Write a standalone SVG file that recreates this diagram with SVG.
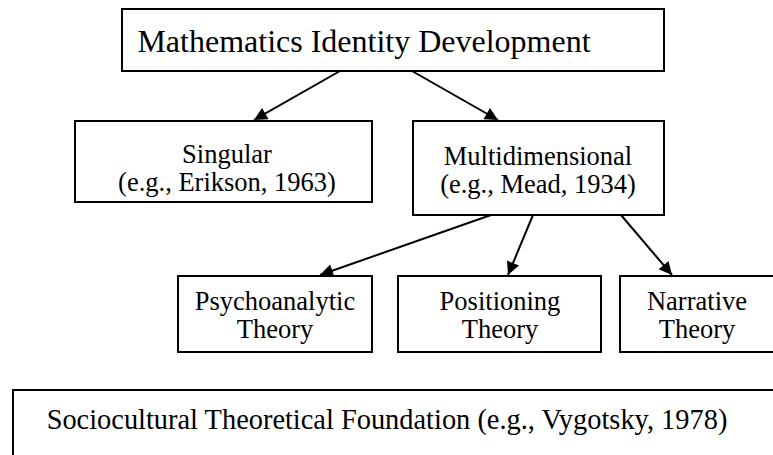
<svg xmlns="http://www.w3.org/2000/svg" width="773" height="455" viewBox="0 0 773 455">
  <style>
    .box { fill: #ffffff; stroke: #000000; stroke-width: 2; }
    .lbl { fill: #000000; text-anchor: middle; }
    .big { font-size: 32px; }
    .mid { font-size: 26.5px; }
    .foot { font-size: 28.4px; }
    .edge { stroke: #000000; stroke-width: 2; fill: none; marker-end: url(#arrow); }
  </style>
  <defs>
    <!-- filled triangular arrowhead shared by every connector -->
    <marker id="arrow" viewBox="0 0 10 10" refX="10" refY="5" markerWidth="7.5" markerHeight="6.5" markerUnits="strokeWidth" orient="auto">
      <path d="M0,0 L10,5 L0,10 z" fill="#000000"/>
    </marker>
  </defs>
  <rect width="773" height="455" fill="#ffffff"/>

  <g id="connectors">
    <line class="edge" x1="340" y1="71" x2="254" y2="120"/>
    <line class="edge" x1="412" y1="71" x2="498" y2="120"/>
    <line class="edge" x1="491" y1="215" x2="320" y2="275"/>
    <line class="edge" x1="533" y1="215" x2="508" y2="275"/>
    <line class="edge" x1="621" y1="215" x2="672" y2="275"/>
  </g>

  <g font-family="Liberation Serif, DejaVu Serif, serif">
    <g id="identity">
      <rect class="box" x="122" y="9" width="542" height="62"/>
      <text class="lbl big" x="364" y="52">Mathematics Identity Development</text>
    </g>

    <g id="singular">
      <rect class="box" x="75" y="121" width="297" height="81"/>
      <text class="lbl mid" x="227" y="163">Singular</text>
      <text class="lbl mid" x="227" y="191">(e.g., Erikson, 1963)</text>
    </g>

    <g id="multidimensional">
      <rect class="box" x="413" y="121" width="251" height="94"/>
      <text class="lbl mid" x="538" y="165">Multidimensional</text>
      <text class="lbl mid" x="538" y="193">(e.g., Mead, 1934)</text>
    </g>

    <g id="psychoanalytic">
      <rect class="box" x="178" y="276" width="194" height="76"/>
      <text class="lbl mid" x="275" y="310">Psychoanalytic</text>
      <text class="lbl mid" x="275" y="338">Theory</text>
    </g>

    <g id="positioning">
      <rect class="box" x="398" y="276" width="203" height="76"/>
      <text class="lbl mid" x="500" y="310">Positioning</text>
      <text class="lbl mid" x="500" y="338">Theory</text>
    </g>

    <g id="narrative">
      <rect class="box" x="620" y="276" width="160" height="76"/>
      <text class="lbl mid" x="697" y="310">Narrative</text>
      <text class="lbl mid" x="697" y="338">Theory</text>
    </g>

    <g id="sociocultural">
      <rect class="box" x="13" y="390" width="780" height="90"/>
      <text class="lbl foot" x="387" y="429">Sociocultural Theoretical Foundation (e.g., Vygotsky, 1978)</text>
    </g>
  </g>
</svg>
